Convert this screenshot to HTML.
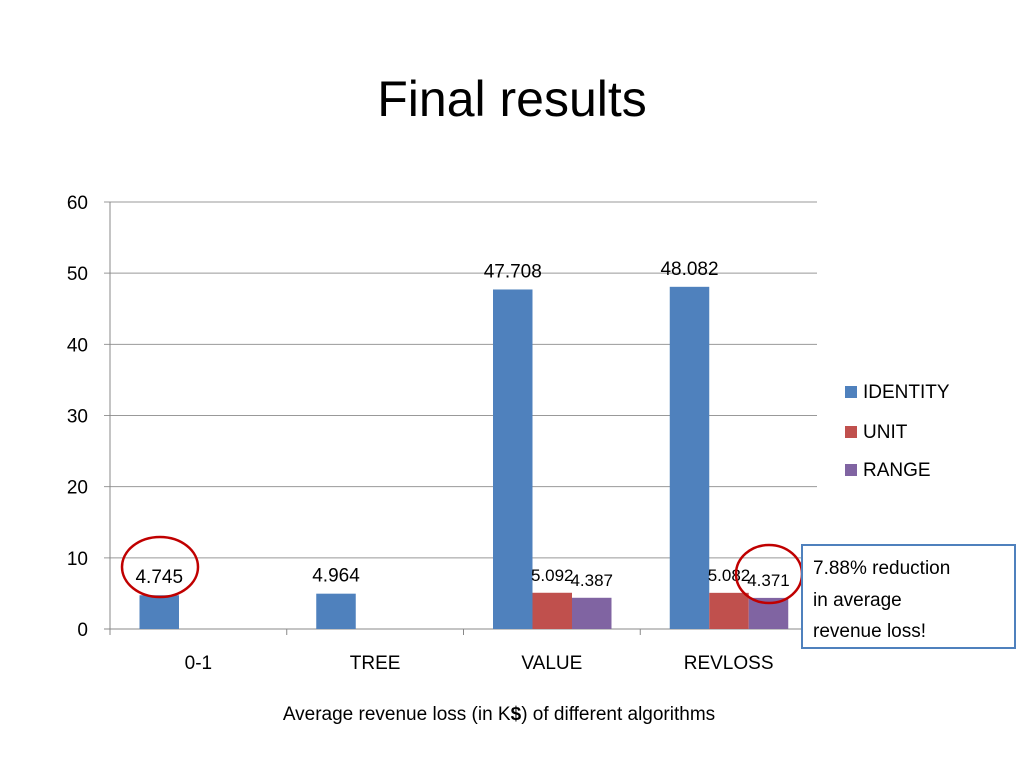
<!DOCTYPE html>
<html><head><meta charset="utf-8"><style>
body{margin:0;background:#fff;}
svg text{font-family:"Liberation Sans",sans-serif;}
</style></head><body>
<svg width="1024" height="768" xmlns="http://www.w3.org/2000/svg">
<text x="512" y="116" font-size="50" text-anchor="middle" fill="#000">Final results</text>
<g id="grid"></g><g id="bars"></g><g id="labels"></g>
<g>
<rect x="845" y="386" width="12" height="12" fill="#4f81bd"/><text x="863" y="398" font-size="19">IDENTITY</text>
<rect x="845" y="426" width="12" height="12" fill="#c0504d"/><text x="863" y="438" font-size="19">UNIT</text>
<rect x="845" y="464" width="12" height="12" fill="#8064a2"/><text x="863" y="476" font-size="19">RANGE</text>
</g>
<text x="499" y="720" font-size="19" text-anchor="middle">Average revenue loss (in K<tspan font-weight="bold">$</tspan>) of different algorithms</text>
<ellipse cx="160" cy="567" rx="38" ry="30" fill="none" stroke="#c00000" stroke-width="2.5"/>
<ellipse cx="769" cy="574" rx="33" ry="29" fill="none" stroke="#c00000" stroke-width="2.5"/>
<rect x="802" y="545" width="213" height="103" fill="#fff" stroke="#4f81bd" stroke-width="2"/>
<text font-size="19"><tspan x="813" y="574">7.88% reduction</tspan><tspan x="813" y="606">in average</tspan><tspan x="813" y="637">revenue loss!</tspan></text>
</svg>
<script>
const categories=["0-1","TREE","VALUE","REVLOSS"];
const identity=[4.745,4.964,47.708,48.082];
const unit=[null,null,5.092,5.082];
const range=[null,null,4.387,4.371];
const yTicks=[0,10,20,30,40,50,60];
const NS="http://www.w3.org/2000/svg";
const x0=110,x1=817,yB=629,yT=202,yMax=60;
const cw=(x1-x0)/categories.length,bw=39.5,gap=29.5;
const y=v=>yB-(v/yMax)*(yB-yT);
function mk(t,a,p){const e=document.createElementNS(NS,t);for(const k in a)e.setAttribute(k,a[k]);p.appendChild(e);return e;}
const g=document.getElementById('grid'),b=document.getElementById('bars'),l=document.getElementById('labels');
yTicks.forEach(v=>{
 const ln=mk('line',{x1:x0-6,x2:x1,y1:y(v),y2:y(v),stroke:v===0?'#888':'#999','stroke-width':1},g);
 
 
 const t=mk('text',{x:x0-22,y:y(v)+7,'font-size':19,'text-anchor':'end'},g);t.textContent=v;
 
 
});
const ax=mk('line',{x1:x0,x2:x0,y1:yT,y2:yB,stroke:'#888'},g);


categories.forEach((c,i)=>{
 mk('line',{x1:x0+i*cw,x2:x0+i*cw,y1:yB,y2:yB+6,stroke:'#888'},g);
 const t=mk('text',{x:x0+i*cw+cw/2,y:yB+40,'font-size':19,'text-anchor':'middle'},g);t.textContent=c;
 
 
});
mk('line',{x1:x1,x2:x1,y1:yB,y2:yB+6,stroke:'#888'},g);
const series=[[identity,'#4f81bd','identity'],[unit,'#c0504d','unit'],[range,'#8064a2','range']];
series.forEach(([arr,col,nm],s)=>{
 arr.forEach((v,i)=>{
  if(v==null)return;
  const bx=x0+i*cw+gap+s*bw;
  const r=mk('rect',{x:bx,y:y(v),width:bw,height:yB-y(v),fill:col},b);
  
  
  const t=mk('text',{x:bx+bw/2,y:y(v)-12,'font-size':v>20?19:(s===0?19:17),'text-anchor':'middle'},l);t.textContent=v.toFixed(3);
  
  
 });
});
</script>
</body></html>
